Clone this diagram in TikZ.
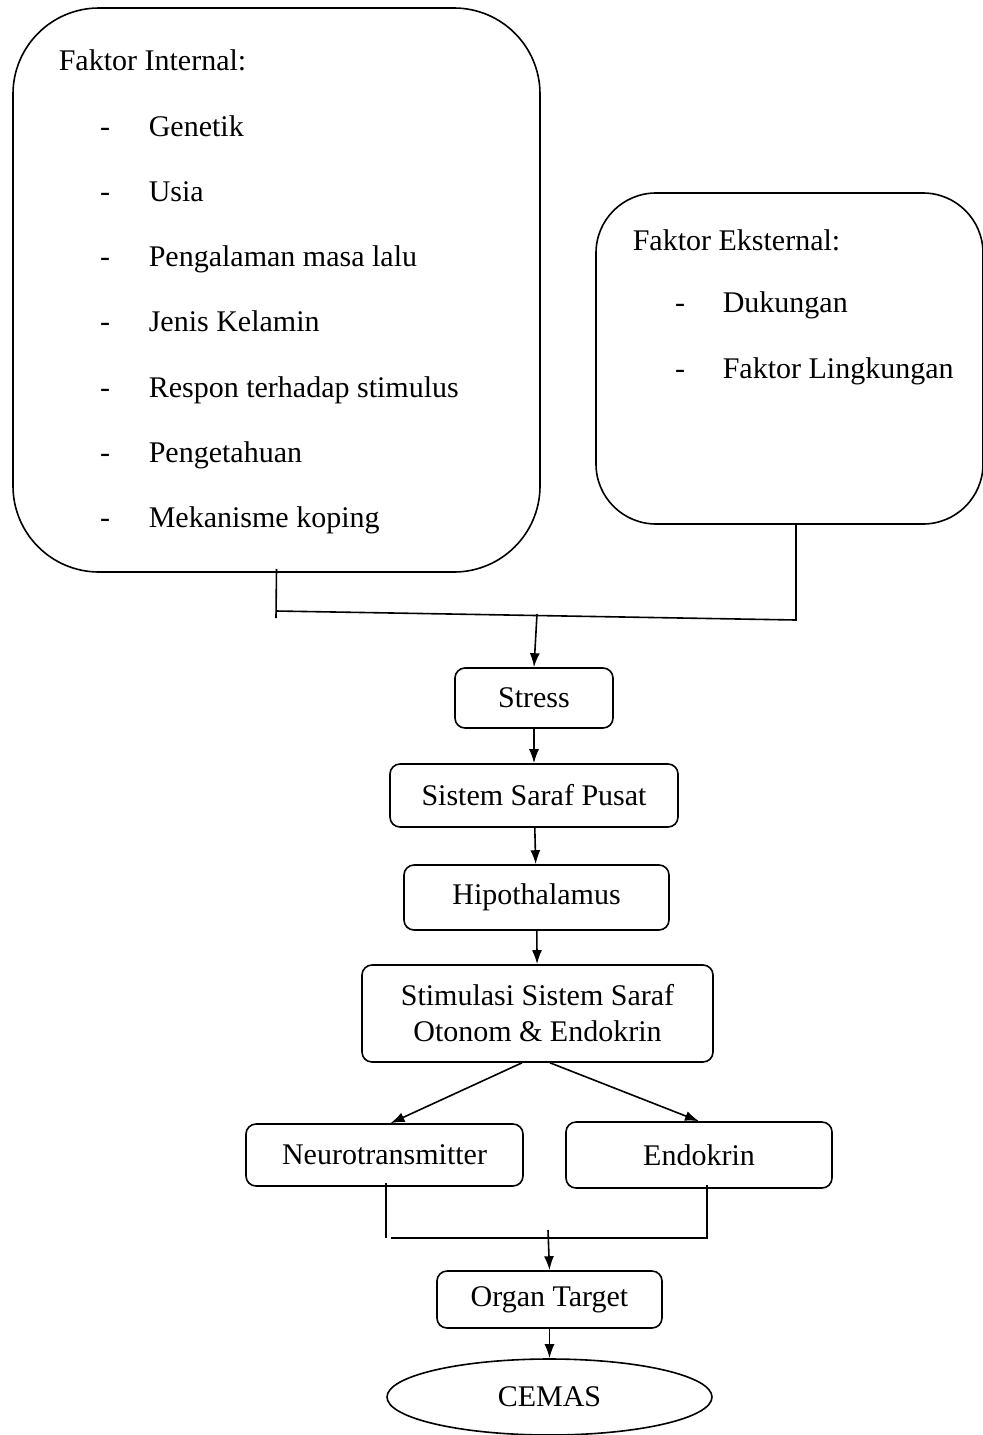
\documentclass[tikz,border=0pt]{standalone}
\usepackage{fontspec}
\setmainfont{Liberation Serif}
\usetikzlibrary{arrows.meta,shapes.geometric}

\begin{document}
\begin{tikzpicture}[>={Latex[length=7pt,width=5pt]}, x=0.5pt, y=-0.5pt, line width=0.8pt,
  font=\fontsize{15}{18}\selectfont,
  bigbox/.style={draw, rounded corners=#1, inner sep=0pt},
  flowbox/.style={draw, rounded corners=5pt, inner sep=0pt, align=center},
  txt/.style={anchor=west, inner sep=0pt, text height=10pt, text depth=0pt}]
  \useasboundingbox (0,0) rectangle (982,1435);

  % Faktor boxes
  \node[bigbox=43pt, minimum width=263.5pt, minimum height=282pt] (internal) at (276.5,290) {};
  \node[bigbox=30pt, minimum width=193.5pt, minimum height=165.5pt] (external) at (789.5,358.5) {};

  \node[txt] (inttitle) at (58,60) {Faktor Internal:};
  \foreach \t [count=\i] in {Genetik, Usia, Pengalaman masa lalu, Jenis Kelamin,
      Respon terhadap stimulus, Pengetahuan, Mekanisme koping} {
    \node[txt] (int-\i) at (148,{126+65.3*(\i-1)}) {\t};
    \node[txt, anchor=center] (intdash-\i) at (105,{126+65.3*(\i-1)}) {-};
  }

  \node[txt] (exttitle) at (632,240) {Faktor Eksternal:};
  \foreach \t [count=\i] in {Dukungan, Faktor Lingkungan} {
    \node[txt] (ext-\i) at (722,{302+66*(\i-1)}) {\t};
    \node[txt, anchor=center] (extdash-\i) at (680,{302+66*(\i-1)}) {-};
  }

  % Flow
  \node[flowbox, minimum width=79pt, minimum height=30pt] (stress) at (534,698) {Stress};
  \node[flowbox, minimum width=144pt, minimum height=31.5pt] (ssp) at (534,795.5) {Sistem Saraf Pusat};
  \node[flowbox, minimum width=132.5pt, minimum height=32.5pt] (hipo) at (536.5,897.5) {Hipothalamus};
  \node[flowbox, minimum width=175.5pt, minimum height=48.5pt] (stim) at (537.5,1013.5)
    {Stimulasi Sistem Saraf\\Otonom \& Endokrin};
  \node[flowbox, minimum width=138.5pt, minimum height=31pt] (neuro) at (384.5,1155) {Neurotransmitter};
  \node[flowbox, minimum width=133pt, minimum height=33pt] (endo) at (699,1155) {Endokrin};
  \node[flowbox, minimum width=112.5pt, minimum height=28.5pt] (organ) at (549.5,1299.5) {Organ Target};
  \node[draw, ellipse, inner sep=0pt, minimum width=162.5pt, minimum height=38pt] (cemas) at (549.5,1397) {CEMAS};

  % Connectors
  \coordinate (jl) at (276,611);
  \coordinate (jr) at (796,620);
  \coordinate (jm) at (537,614);
  \draw ([yshift=2pt]internal.south) -- ([yshift=-3.5pt]jl);
  \draw (jl) -- (jr) -- (external.south -| jr);
  \draw[->] (jm) -- (stress.north);
  \draw[->] (stress) -- (ssp);
  \draw[->] (ssp) -- (hipo);
  \draw[->] (hipo) -- (stim);
  \draw[->] ([xshift=-7.75pt]stim.south) -- ([xshift=3pt]neuro.north);
  \draw[->] ([xshift=6.25pt]stim.south) -- (endo.north);

  \coordinate (bl) at (386,1238);
  \coordinate (br) at (707,1238);
  \coordinate (bm) at (548,1230);
  \draw ([xshift=0.75pt,yshift=2pt]neuro.south) -- (bl);
  \draw ([xshift=4pt,yshift=2pt]endo.south) -- (br) -- ([xshift=2.5pt]bl);
  \draw[->] (bm) -- (organ.north);
  \draw[->] (organ) -- (cemas);
\end{tikzpicture}
\end{document}
